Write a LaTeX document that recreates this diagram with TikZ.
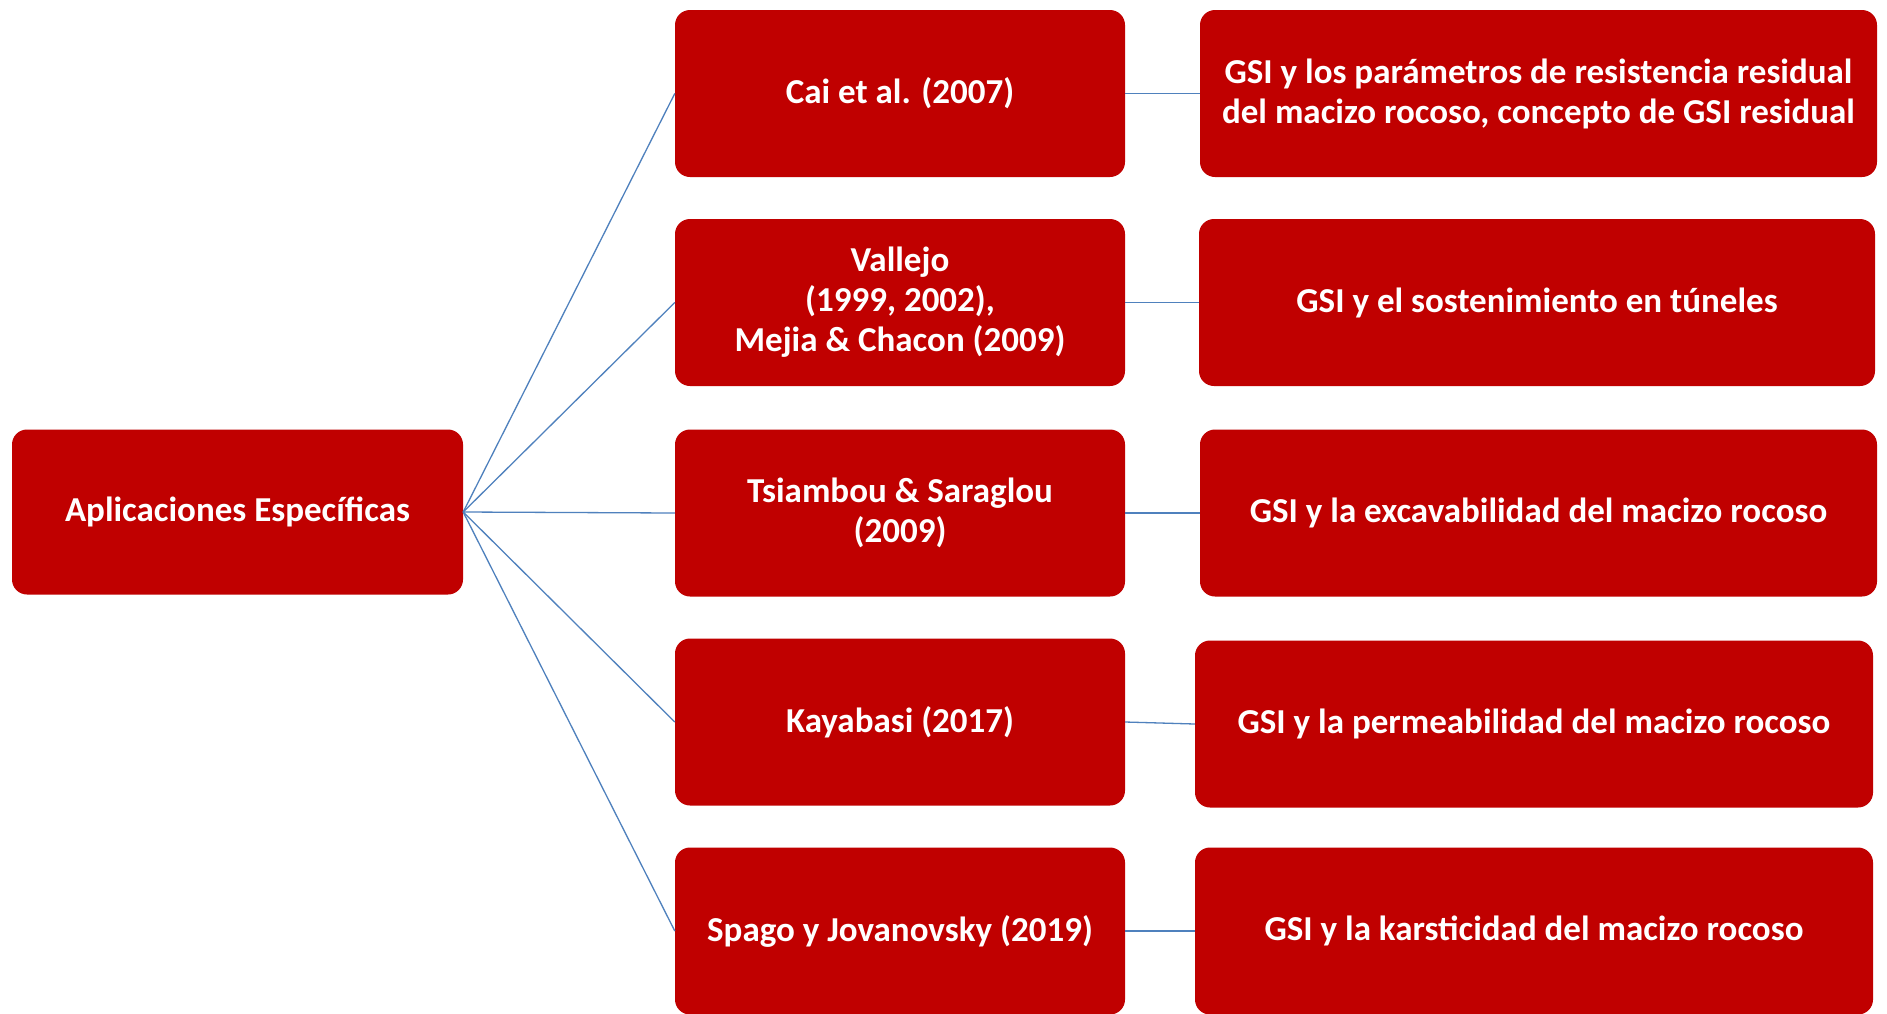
\documentclass[tikz,border=0pt]{standalone}
\usepackage{fontspec}
\setmainfont{Carlito}
\definecolor{boxred}{RGB}{192,0,0}
\definecolor{linkblue}{RGB}{79,129,189}
\begin{document}
\begin{tikzpicture}[x=1pt,y=-1pt,
  redbox/.style={fill=boxred, draw=none, rounded corners=15pt, inner sep=0pt,
    text=white, font=\fontsize{35}{40}\selectfont\bfseries, align=center,
    minimum height=167pt},
  midbox/.style={redbox, minimum width=450pt},
  link/.style={draw=linkblue, line width=1.3pt}]
\useasboundingbox (0,0) rectangle (1887,1013);
\fill[white] (0,0) rectangle (1887,1013);
\node[redbox, minimum width=451pt, minimum height=165pt] (root) at (237.5,512) {Aplicaciones Específicas};
\node[midbox] (m1) at (900,93.5) {Cai et al. (2007)};
\node[midbox] (m2) at (900,302.5) {Vallejo\\(1999, 2002),\\Mejia \& Chacon (2009)};
\node[midbox] (m3) at (900,513) {Tsiambou \& Saraglou\\(2009)};
\node[midbox] (m4) at (900,722) {Kayabasi (2017)};
\node[midbox] (m5) at (900,931) {Spago y Jovanovsky (2019)};
\node[redbox, minimum width=677pt] (r1) at (1538.5,93.5) {GSI y los parámetros de resistencia residual\\del macizo rocoso, concepto de GSI residual};
\node[redbox, minimum width=676pt] (r2) at (1537,302.5) {GSI y el sostenimiento en túneles};
\node[redbox, minimum width=677pt] (r3) at (1538.5,513) {GSI y la excavabilidad del macizo rocoso};
\node[redbox, minimum width=678pt] (r4) at (1534,724) {GSI y la permeabilidad del macizo rocoso};
\node[redbox, minimum width=678pt] (r5) at (1534,931) {GSI y la karsticidad del macizo rocoso};
\foreach \i in {1,...,5}{
  \draw[link] (root.east) -- (m\i.west);
  \draw[link] (m\i.east) -- (r\i.west);
}
\end{tikzpicture}
\end{document}
